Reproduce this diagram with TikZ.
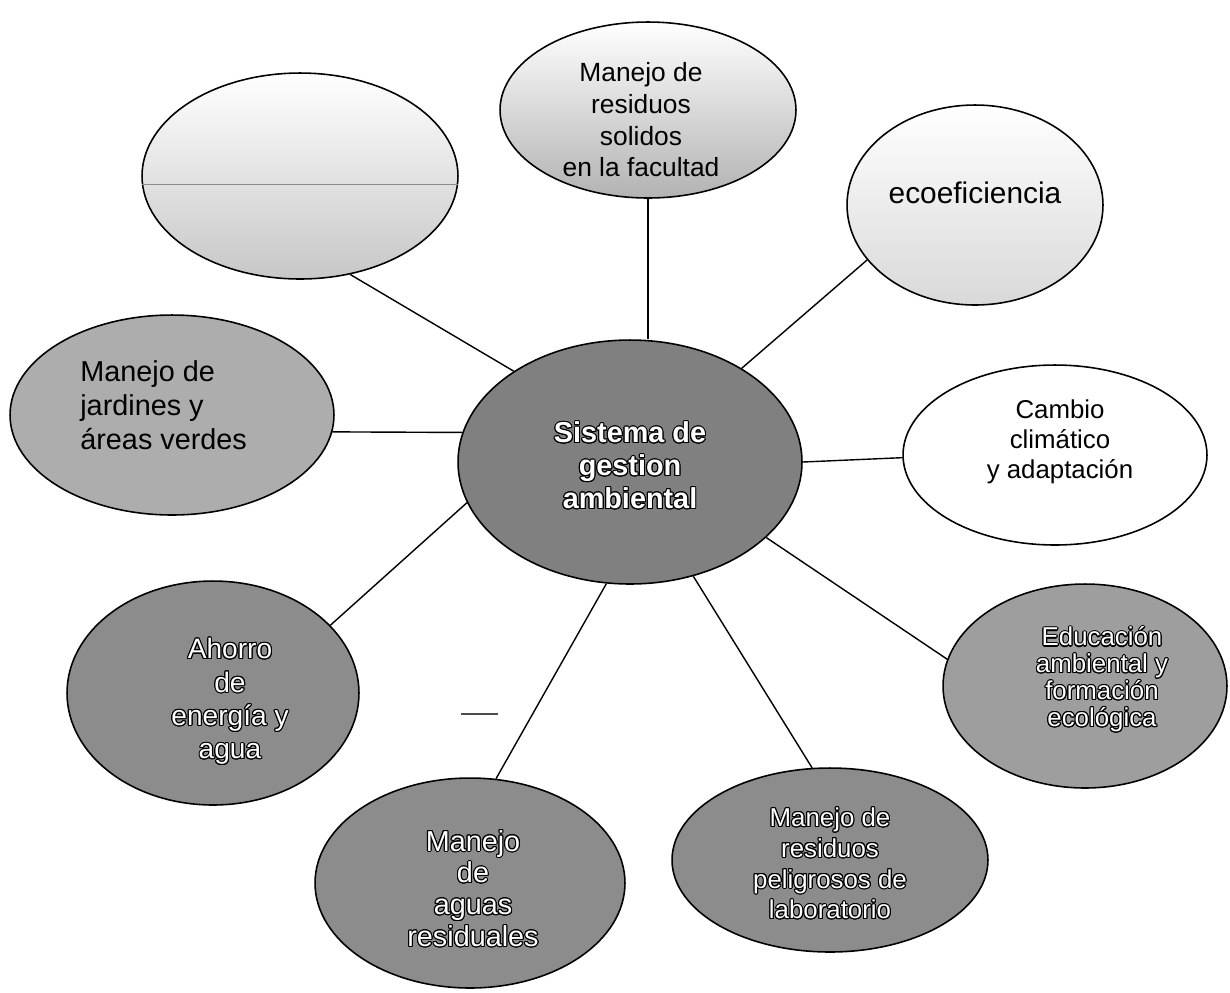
\documentclass[tikz,border=0pt]{standalone}
\usepackage{fontspec}
\setmainfont{Liberation Sans}
\usepackage{contour}
\contourlength{0.6pt}
\usetikzlibrary{shapes.geometric}
\newcommand{\wt}[1]{\contour{black}{#1}}
\tikzset{
  bub/.style={ellipse, draw=black, line width=0.9pt, inner sep=0pt},
  conn/.style={line width=0.8pt, draw=black},
  lbl/.style={align=center, inner sep=0pt},
  wlbl/.style={lbl, text=white},
}
\begin{document}
\begin{tikzpicture}[x=0.02cm, y=-0.02cm]
\fill[white] (0,0) rectangle (1230,992);
\useasboundingbox (0,0) rectangle (1230,992);

% ellipses
\node[bub, fill=black!50, minimum width=6.88cm, minimum height=4.88cm] (C) at (630,462) {};
\node[bub, top color=white, bottom color=black!30, minimum width=5.92cm, minimum height=3.52cm] (T) at (648,110) {};
\node[bub, top color=white, bottom color=black!22, minimum width=6.32cm, minimum height=4.12cm] (TL) at (300,176) {};
\node[bub, top color=white, bottom color=black!15, minimum width=5.12cm, minimum height=4.0cm] (TR) at (975,205) {};
\node[bub, fill=white, minimum width=6.08cm, minimum height=3.6cm] (R) at (1055,455) {};
\node[bub, fill=black!32, minimum width=6.48cm, minimum height=4.0cm] (L) at (172,415) {};
\node[bub, fill=black!45, minimum width=5.84cm, minimum height=4.48cm] (LL) at (213,693) {};
\node[bub, fill=black!45, minimum width=6.2cm, minimum height=4.2cm] (B) at (470,883) {};
\node[bub, fill=black!45, minimum width=6.32cm, minimum height=3.68cm] (BR) at (830,860) {};
\node[bub, fill=black!38, minimum width=5.68cm, minimum height=4.08cm] (E) at (1085,686) {};

% faint line across the top-left ellipse
\draw[black!45, line width=0.8pt] (TL.183.3) -- (TL.-3.3);

% connectors
\draw[conn] (T.south) -- (T.south |- C.north);
\draw[conn] (TL.-63.9) -- (C.142);
\draw[conn] (TR.207.6) -- (C.40.2);
\draw[conn] (L.-6.4) -- (C.170.1);
\draw[conn] (R.181.9) -- (C.-0.7);
\draw[conn] (E.169.5) -- (C.-29.9);
\draw[conn] (BR.101) -- (C.-61.5);
\draw[conn] (B.76.7) -- (C.259.7);
\draw[conn] (LL.30.8) -- (C.194.6);

% stray mark
\draw[black!70, line width=0.9pt] (461,714) -- (498,714);

% labels
\node[wlbl, font=\bfseries\fontsize{16.4}{18.7}\selectfont] (Ct) at (630,466) {\wt{Sistema de}\\\wt{gestion}\\\wt{ambiental}};
\node[lbl, font=\fontsize{15}{18}\selectfont] (Tt) at (641,120) {Manejo de\\residuos\\solidos\\en la facultad};
\node[lbl, font=\fontsize{17}{20}\selectfont] (TRt) at (975,193) {ecoeficiencia};
\node[lbl, font=\fontsize{14.7}{17}\selectfont] (Rt) at (1060,442) {Cambio\\climático\\y adaptación};
\node[lbl, align=left, anchor=west, font=\fontsize{16.4}{19.3}\selectfont] (Lt) at (80,405) {Manejo de\\jardines y\\áreas verdes};
\node[wlbl, font=\fontsize{16}{19}\selectfont] (LLt) at (230,702) {\wt{Ahorro}\\\wt{de}\\\wt{energía y}\\\wt{agua}};
\node[wlbl, font=\fontsize{16.4}{18.1}\selectfont] (Bt) at (473,889) {\wt{Manejo}\\\wt{de}\\\wt{aguas}\\\wt{residuales}};
\node[wlbl, font=\fontsize{14.7}{17.5}\selectfont] (BRt) at (830,864) {\wt{Manejo de}\\\wt{residuos}\\\wt{peligrosos de}\\\wt{laboratorio}};
\node[wlbl, font=\fontsize{14.7}{15.3}\selectfont] (Et) at (1102,680) {\wt{Educación}\\\wt{ambiental y}\\\wt{formación}\\\wt{ecológica}};
\end{tikzpicture}
\end{document}
